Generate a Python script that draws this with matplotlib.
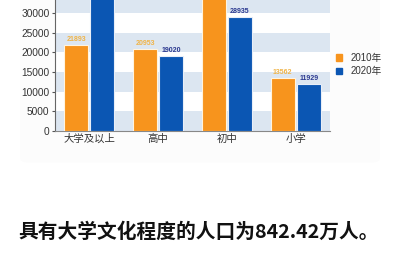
import matplotlib
matplotlib.use("Agg")
import matplotlib.pyplot as plt
from matplotlib.patches import FancyBboxPatch, Patch
import numpy as np

plt.rcParams['font.family'] = ['Liberation Sans', 'Noto Sans CJK SC', 'DejaVu Sans']

categories = ["大学及以上", "高中", "初中", "小学"]
series_names = ["2010年", "2020年"]
vals_2010 = [21893, 20953, 40000, 13562]
vals_2020 = [36000, 19020, 28935, 11929]
# only these labels are visible in the picture (others are cut off at the top)
show_2010 = [True, True, False, True]
show_2020 = [False, True, True, True]
yticks = [0, 5000, 10000, 15000, 20000, 25000, 30000]

c_2010 = "#f7941d"
c_2020 = "#0b56b3"

fig = plt.figure(figsize=(4, 2.6), dpi=100)
fig.patches.append(FancyBboxPatch((0.05, 0.375), 0.9, 0.7,
                                  boxstyle="round,pad=0,rounding_size=0.02",
                                  transform=fig.transFigure, fc="#fcfcfc",
                                  ec="none", zorder=-10))

ax = fig.add_axes([0.1375, 0.496, 0.6875, 0.504])
ax.set_facecolor("none")
ax.set_xlim(-0.5, 3.5)
ax.set_ylim(0, 33300)

# alternating horizontal bands
for i in range(0, 7):
    if i % 2 == 0:
        ax.axhspan(i * 5000, (i + 1) * 5000, color="#dce6f1", zorder=0, lw=0)
    else:
        ax.axhspan(i * 5000, (i + 1) * 5000, color="white", zorder=0, lw=0)

x = np.arange(len(categories))
w = 0.35
off = 0.19
b1 = ax.bar(x - off, vals_2010, w, color=c_2010, edgecolor="#fff4e0", lw=0.8, zorder=3)
b2 = ax.bar(x + off, vals_2020, w, color=c_2020, edgecolor="#e8eef8", lw=0.8, zorder=3)

for xi, v, s in zip(x, vals_2010, show_2010):
    if s:
        ax.text(xi - off, v + 500, str(v), ha="center", va="bottom",
                fontsize=5, fontweight="bold", color="#f0b448", zorder=4)
for xi, v, s in zip(x, vals_2020, show_2020):
    if s:
        ax.text(xi + off, v + 500, str(v), ha="center", va="bottom",
                fontsize=5, fontweight="bold", color="#2b3990", zorder=4)

ax.set_yticks(yticks)
ax.set_yticklabels([str(t) for t in yticks], fontsize=7.3, color="#333333")
ax.set_xticks(x)
ax.set_xticklabels(categories, fontsize=7.5, color="#333333",
                   family=['Noto Sans CJK SC', 'DejaVu Sans'])
ax.tick_params(axis="x", length=0, pad=2)
ax.tick_params(axis="y", length=2, pad=2, color="#555555")
for s in ["top", "right"]:
    ax.spines[s].set_visible(False)
ax.spines["left"].set_color("#666666")
ax.spines["bottom"].set_color("#888888")
ax.spines["left"].set_linewidth(0.8)
ax.spines["bottom"].set_linewidth(0.8)

handles = [Patch(color=c_2010), Patch(color=c_2020)]
leg = fig.legend(handles, series_names, loc="upper left",
                 bbox_to_anchor=(0.818, 0.83), frameon=False,
                 handlelength=0.6, handleheight=0.6,
                 handletextpad=0.9, labelspacing=0.35,
                 prop={'family': ['Liberation Sans', 'Noto Sans CJK SC'], 'size': 7})
for t in leg.get_texts():
    t.set_color("#333333")

fig.text(0.4975, 0.108, "具有大学文化程度的人口为842.42万人。", ha="center", va="center",
         fontsize=14.2, fontweight="bold", color="#111111",
         family=['Noto Sans CJK SC', 'DejaVu Sans'])

fig.savefig("out.png", dpi=100)
